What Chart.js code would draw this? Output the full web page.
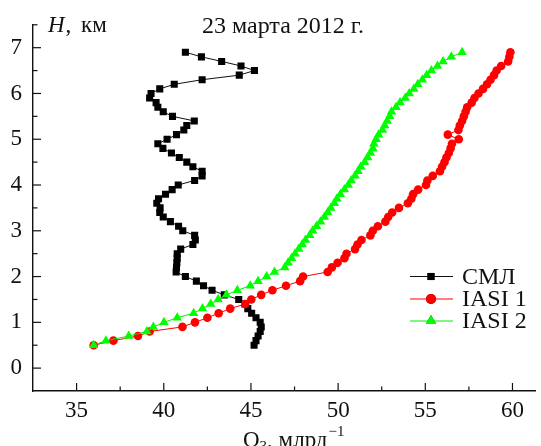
<!DOCTYPE html>
<html><head><meta charset="utf-8">
<script src="https://cdn.jsdelivr.net/npm/chart.js@4/dist/chart.umd.min.js"></script>
<style>html,body{margin:0;padding:0;background:#fff;overflow:hidden}#wrap{width:541px;height:446px;position:relative}</style>
</head><body><div id="wrap"><canvas id="c" width="541" height="446"></canvas></div>
<script>
// Heights (km), common for all three profiles
const heights = [0.5,0.6,0.7,0.8,0.9,1.0,1.1,1.2,1.3,1.4,1.5,1.6,1.7,1.8,1.9,2.0,2.1,2.2,2.3,2.4,2.5,2.6,2.7,2.8,2.9,3.0,3.1,3.2,3.3,3.4,3.5,3.6,3.7,3.8,3.9,4.0,4.1,4.2,4.3,4.4,4.5,4.6,4.7,4.8,4.9,5.0,5.1,5.2,5.3,5.4,5.5,5.6,5.7,5.8,5.9,6.0,6.1,6.2,6.3,6.4,6.5,6.6,6.7,6.8,6.9];
// O3 values (ppb)
const smlO3 = [45.18,45.29,45.41,45.53,45.59,45.53,45.29,45.04,44.82,44.65,44.30,43.47,42.77,42.28,41.87,41.24,40.71,40.73,40.75,40.77,40.77,40.97,41.67,41.81,41.77,41.09,40.85,40.38,39.97,39.77,39.79,39.60,39.70,40.10,40.48,40.83,41.77,42.20,42.20,41.67,41.32,40.89,40.44,39.95,39.66,40.19,40.73,41.15,41.32,41.75,40.50,39.97,39.66,39.56,39.19,39.27,39.77,40.60,42.20,44.33,45.20,44.43,43.32,42.16,41.24];
const iasi1O3 = [35.98,37.11,38.52,39.19,41.07,41.79,42.50,43.15,43.81,44.67,45.02,45.59,46.23,47.01,47.82,47.99,49.40,49.64,49.97,50.36,50.48,50.97,51.11,51.34,51.85,51.99,52.28,52.71,52.87,53.10,53.49,54.00,54.20,54.30,54.59,55.04,55.12,55.43,55.84,55.96,56.10,56.21,56.35,56.45,56.53,56.92,56.29,56.90,56.98,57.11,57.21,57.31,57.40,57.66,57.82,58.05,58.31,58.54,58.74,58.94,59.09,59.35,59.75,59.82,59.88];
const iasi2O3 = [35.98,36.68,37.99,39.03,39.40,40.01,40.77,41.71,42.22,42.69,43.12,43.59,44.22,44.96,45.41,45.90,46.35,46.94,47.13,47.33,47.53,47.74,47.94,48.13,48.37,48.54,48.76,48.99,49.21,49.40,49.58,49.78,49.93,50.13,50.36,50.58,50.75,50.97,51.14,51.30,51.52,51.69,51.85,51.99,52.05,52.18,52.32,52.54,52.67,52.81,52.96,53.06,53.32,53.55,53.85,54.08,54.34,54.57,54.83,55.08,55.35,55.70,56.02,56.49,57.11];
const seriesNames = ['СМЛ','IASI 1','IASI 2'];
const xTicks = [35,40,45,50,55,60];
const xMinor = [37.5,42.5,47.5,52.5,57.5];
const yTicks = [0,1,2,3,4,5,6,7];
const yMinor = [0.5,1.5,2.5,3.5,4.5,5.5,6.5,7.5];
const chartTitle = '23 марта 2012 г.';

const SERIF = '"Liberation Serif","DejaVu Serif",serif';
const pts = arr => arr.map((v,i)=>({x:v,y:heights[i]}));

const decor = {
  id:'decor',
  afterDraw(chart){
    const {ctx, chartArea:a, scales:{x,y}} = chart;
    ctx.save();
    // inward ticks
    ctx.strokeStyle='#111'; ctx.lineWidth=1.2;
    const L=(x1,y1,x2,y2)=>{ctx.beginPath();ctx.moveTo(x1,y1);ctx.lineTo(x2,y2);ctx.stroke();};
    xTicks.forEach(v=>{const p=x.getPixelForValue(v); L(p,a.bottom,p,a.bottom-8);});
    xMinor.forEach(v=>{const p=x.getPixelForValue(v); L(p,a.bottom,p,a.bottom-4.5);});
    yTicks.forEach(v=>{const p=y.getPixelForValue(v); L(a.left,p,a.left+8,p);});
    yMinor.forEach(v=>{const p=y.getPixelForValue(v); L(a.left,p,a.left+4.5,p);});
    // texts
    ctx.fillStyle='#111'; ctx.textBaseline='alphabetic'; ctx.textAlign='left';
    ctx.font='24px '+SERIF;
    ctx.fillText(chartTitle, 202, 33);
    ctx.font='italic 23px '+SERIF;
    ctx.fillText('H', 48, 32);
    let w=ctx.measureText('H').width;
    ctx.font='23px '+SERIF;
    ctx.fillText(',', 48+w+1, 32);
    ctx.fillText('км', 81, 32);
    // x title O3, млрд^-1
    let cx=243, by=447;
    ctx.font='23px '+SERIF; ctx.fillText('O',cx,by); cx+=ctx.measureText('O').width;
    ctx.font='15px '+SERIF; ctx.fillText('3',cx,by+4); cx+=ctx.measureText('3').width;
    ctx.font='23px '+SERIF; ctx.fillText(', млрд',cx,by); cx+=ctx.measureText(', млрд').width;
    ctx.font='15px '+SERIF; ctx.fillText('−1',cx+1,by-11);
    // legend
    const rows=[276.5,299,321];
    chart.data.datasets.forEach((ds,i)=>{
      const yy=rows[ds.legendRow];
      ctx.strokeStyle=ds.borderColor; ctx.lineWidth=1.2;
      L(410,yy,453,yy);
      Chart.helpers.drawPoint(ctx,{pointStyle:ds.pointStyle,radius:ds.legendRadius,rotation:0,borderWidth:0},431,yy);
      ctx.fillStyle=ds.backgroundColor; ctx.fill();
      ctx.fillStyle='#111'; ctx.font='24px '+SERIF; ctx.textBaseline='middle';
      ctx.fillText(ds.label,462,yy+1);
    });
    ctx.restore();
  }
};

new Chart(document.getElementById('c'),{
  type:'scatter',
  data:{datasets:[
    {label:seriesNames[0],data:pts(smlO3),showLine:true,borderColor:'#111',backgroundColor:'#000',borderWidth:1,pointStyle:'rect',pointRadius:5,pointBorderWidth:0,pointHoverRadius:5,order:3,legendRow:0,legendRadius:5},
    {label:seriesNames[1],data:pts(iasi1O3),showLine:true,borderColor:'#ff0000',backgroundColor:'#ff0000',borderWidth:1,pointStyle:'circle',pointRadius:4.3,pointBorderWidth:0,pointHoverRadius:4.3,order:2,legendRow:1,legendRadius:5},
    {label:seriesNames[2],data:pts(iasi2O3),showLine:true,borderColor:'#00ee00',backgroundColor:'#00ff00',borderWidth:1,pointStyle:'triangle',pointRadius:5.5,pointBorderWidth:0,pointHoverRadius:5.5,order:1,legendRow:2,legendRadius:6}
  ]},
  options:{
    responsive:false, animation:false, devicePixelRatio:1,
    layout:{padding:{top:17,right:0,left:0,bottom:0}},
    plugins:{legend:{display:false},tooltip:{enabled:false},title:{display:false}},
    scales:{
      x:{type:'linear',min:32.5,max:61.32,
        afterBuildTicks:s=>{s.ticks=xTicks.map(v=>({value:v}));},
        afterFit:s=>{s.height=55;},
        grid:{display:false,drawTicks:false},
        border:{display:true,color:'#111',width:1.4},
        ticks:{font:{family:SERIF,size:23},color:'#111',padding:6,maxRotation:0,autoSkip:false}},
      y:{type:'linear',min:-0.5,max:7.5,
        afterBuildTicks:s=>{s.ticks=yTicks.map(v=>({value:v}));},
        afterFit:s=>{s.width=33;},
        grid:{display:false,drawTicks:false},
        border:{display:true,color:'#111',width:1.4},
        ticks:{font:{family:SERIF,size:23},color:'#111',padding:11,autoSkip:false}}
    }
  },
  plugins:[decor]
});
</script></body></html>
